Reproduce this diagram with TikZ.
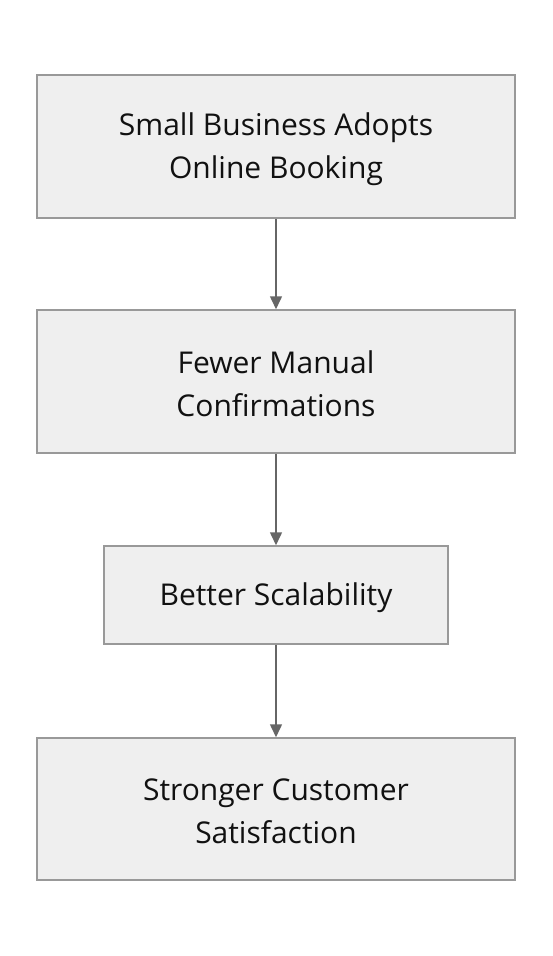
\documentclass[tikz,border=0pt]{standalone}
\usepackage{fontspec}
\setmainfont{Open Sans}
\usetikzlibrary{arrows.meta}
\definecolor{boxfill}{HTML}{EFEFEF}
\definecolor{boxline}{HTML}{999999}
\definecolor{arrowc}{HTML}{666666}
\definecolor{txt}{HTML}{111111}
\begin{document}
\begin{tikzpicture}[x=1pt,y=-1pt,
  stepbox/.style={draw=boxline,fill=boxfill,line width=1.5pt,inner sep=0pt,
    text=txt,align=center,font=\fontsize{30}{43}\selectfont},
  lbl/.style={text=txt,align=center,inner sep=0pt,font=\fontsize{30}{43}\selectfont},
  conn/.style={draw=arrowc,line width=1.5pt,-{Triangle[length=13pt,width=12pt]}}]
\useasboundingbox (0,0) rectangle (552,956);
\node[stepbox,minimum width=478pt,minimum height=143pt] (a) at (276,146.5) {};
\node[lbl] (at) at (276,149) {Small Business Adopts\\ Online Booking};
\node[stepbox,minimum width=478pt,minimum height=143pt] (b) at (276,381.5) {};
\node[lbl] (bt) at (276,384) {Fewer Manual\\ Confirmations};
\node[stepbox,minimum width=344pt,minimum height=98pt] (c) at (276,595) {};
\node[lbl] (ct) at (276,598) {Better Scalability};
\node[stepbox,minimum width=478pt,minimum height=142pt] (d) at (276,809) {};
\node[lbl] (dt) at (276,811.5) {Stronger Customer\\ Satisfaction};
\draw[conn] (a.south) -- (b.north);
\draw[conn] (b.south) -- (c.north);
\draw[conn] (c.south) -- (d.north);
\end{tikzpicture}
\end{document}
